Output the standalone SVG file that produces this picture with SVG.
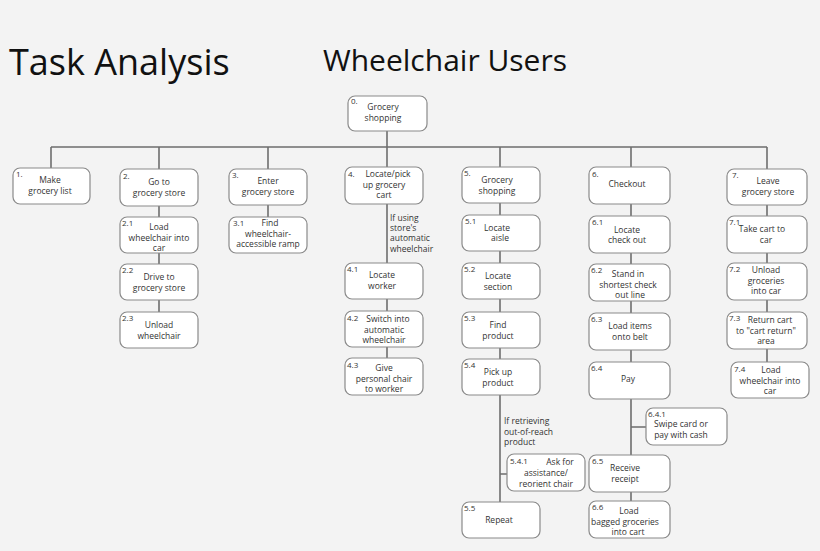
<svg xmlns="http://www.w3.org/2000/svg" width="820" height="551" viewBox="0 0 820 551">
<style>
.b{fill:#fff;stroke:#8a8a8a;stroke-width:1.2}
text{font-family:"Open Sans","Liberation Sans",sans-serif;fill:#333;font-size:8.5px}
.c{text-anchor:middle}
.n{font-size:8px}
.l{stroke:#6e6e6e;stroke-width:1.6;fill:none}
.t{font-size:36px;fill:#111}
</style>
<rect width="820" height="551" fill="#f3f3f3"/>
<text class="t" x="9" y="75">Task Analysis</text>
<text class="t" x="323" y="71" style="font-size:30px">Wheelchair Users</text>
<g id="connectors">
<path class="l" d="M387 131V147M51 147H767M51 147V168M159 147V169M268 147V169M387 147V167M500 147V167M631 147V167M767 147V169"/>
<path class="l" d="M159 206V312M268 205V217M387 204V358M500 203V502M500 474H507M631 204V501M631 427H646M767 205V362"/>
</g>
<g id="n0"><rect class="b" x="348" y="96" width="79" height="35" rx="7"/><text class="n" x="351" y="104">0.</text><text class="c" x="383" y="110">Grocery</text><text class="c" x="383" y="121">shopping</text></g>
<g id="n1"><rect class="b" x="13" y="168" width="77" height="36" rx="7"/><text class="n" x="16" y="177">1.</text><text class="c" x="50" y="183">Make</text><text class="c" x="50" y="194">grocery list</text></g>
<g id="n2"><rect class="b" x="120" y="169" width="78" height="37" rx="7"/><text class="n" x="123" y="179">2.</text><text class="c" x="159" y="185">Go to</text><text class="c" x="159" y="196">grocery store</text></g>
<g id="n21"><rect class="b" x="120" y="217" width="78" height="36" rx="7"/><text class="n" x="122" y="226">2.1</text><text class="c" x="159" y="230">Load</text><text class="c" x="159" y="241">wheelchair into</text><text class="c" x="159" y="251">car</text></g>
<g id="n22"><rect class="b" x="120" y="264" width="78" height="36" rx="7"/><text class="n" x="122" y="273">2.2</text><text class="c" x="159" y="280">Drive to</text><text class="c" x="159" y="291">grocery store</text></g>
<g id="n23"><rect class="b" x="120" y="312" width="78" height="36" rx="7"/><text class="n" x="122" y="321">2.3</text><text class="c" x="159" y="328">Unload</text><text class="c" x="159" y="339">wheelchair</text></g>
<g id="n3"><rect class="b" x="229" y="169" width="78" height="36" rx="7"/><text class="n" x="232" y="178">3.</text><text class="c" x="268" y="184">Enter</text><text class="c" x="268" y="195">grocery store</text></g>
<g id="n31"><rect class="b" x="229" y="217" width="78" height="36" rx="7"/><text class="n" x="233" y="226">3.1</text><text class="c" x="270" y="226">Find</text><text class="c" x="268" y="237">wheelchair-</text><text class="c" x="268" y="247">accessible ramp</text></g>
<g id="n4"><rect class="b" x="345" y="167" width="78" height="37" rx="7"/><text class="n" x="348" y="177">4.</text><text class="c" x="388" y="177">Locate/pick</text><text class="c" x="384" y="188">up grocery</text><text class="c" x="384" y="198">cart</text></g>
<text x="390" y="221">If using</text><text x="390" y="231">store's</text><text x="390" y="241">automatic</text><text x="390" y="252">wheelchair</text>
<g id="n41"><rect class="b" x="345" y="263" width="78" height="36" rx="7"/><text class="n" x="347" y="272">4.1</text><text class="c" x="382" y="278">Locate</text><text class="c" x="382" y="289">worker</text></g>
<g id="n42"><rect class="b" x="345" y="311" width="78" height="36" rx="7"/><text class="n" x="347" y="321">4.2</text><text class="c" x="388" y="322">Switch into</text><text class="c" x="384" y="333">automatic</text><text class="c" x="384" y="343">wheelchair</text></g>
<g id="n43"><rect class="b" x="345" y="358" width="78" height="37" rx="7"/><text class="n" x="347" y="368">4.3</text><text class="c" x="384" y="371">Give</text><text class="c" x="384" y="382">personal chair</text><text class="c" x="384" y="392">to worker</text></g>
<g id="n5"><rect class="b" x="462" y="167" width="78" height="36" rx="7"/><text class="n" x="464" y="176">5.</text><text class="c" x="497" y="183">Grocery</text><text class="c" x="497" y="194">shopping</text></g>
<g id="n51"><rect class="b" x="462" y="215" width="78" height="36" rx="7"/><text class="n" x="465" y="224">5.1</text><text class="c" x="497" y="231">Locate</text><text class="c" x="500" y="241">aisle</text></g>
<g id="n52"><rect class="b" x="462" y="263" width="78" height="36" rx="7"/><text class="n" x="464" y="272">5.2</text><text class="c" x="498" y="279">Locate</text><text class="c" x="498" y="290">section</text></g>
<g id="n53"><rect class="b" x="462" y="312" width="78" height="36" rx="7"/><text class="n" x="464" y="321">5.3</text><text class="c" x="498" y="328">Find</text><text class="c" x="498" y="339">product</text></g>
<g id="n54"><rect class="b" x="462" y="359" width="78" height="36" rx="7"/><text class="n" x="464" y="368">5.4</text><text class="c" x="498" y="375">Pick up</text><text class="c" x="498" y="386">product</text></g>
<text x="504" y="424">If retrieving</text><text x="504" y="435">out-of-reach</text><text x="504" y="445">product</text>
<g id="n541"><rect class="b" x="507" y="454" width="78" height="37" rx="7"/><text class="n" x="510" y="464">5.4.1</text><text class="c" x="560" y="465">Ask for</text><text class="c" x="546" y="476">assistance/</text><text class="c" x="546" y="487">reorient chair</text></g>
<g id="n55"><rect class="b" x="462" y="502" width="78" height="36" rx="7"/><text class="n" x="464" y="511">5.5</text><text class="c" x="499" y="523">Repeat</text></g>
<g id="n6"><rect class="b" x="589" y="167" width="81" height="37" rx="7"/><text class="n" x="592" y="177">6.</text><text class="c" x="627" y="187">Checkout</text></g>
<g id="n61"><rect class="b" x="589" y="216" width="81" height="37" rx="7"/><text class="n" x="592" y="225">6.1</text><text class="c" x="627" y="233">Locate</text><text class="c" x="627" y="243">check out</text></g>
<g id="n62"><rect class="b" x="589" y="264" width="81" height="37" rx="7"/><text class="n" x="591" y="273">6.2</text><text class="c" x="628" y="277">Stand in</text><text class="c" x="628" y="288">shortest check</text><text class="c" x="630" y="298">out line</text></g>
<g id="n63"><rect class="b" x="589" y="313" width="81" height="37" rx="7"/><text class="n" x="591" y="322">6.3</text><text class="c" x="630" y="329">Load items</text><text class="c" x="630" y="340">onto belt</text></g>
<g id="n64"><rect class="b" x="589" y="362" width="81" height="37" rx="7"/><text class="n" x="591" y="371">6.4</text><text class="c" x="628" y="382">Pay</text></g>
<g id="n641"><rect class="b" x="646" y="408" width="81" height="37" rx="7"/><text class="n" x="648" y="417">6.4.1</text><text class="c" x="681" y="427">Swipe card or</text><text class="c" x="681" y="438">pay with cash</text></g>
<g id="n65"><rect class="b" x="589" y="455" width="81" height="37" rx="7"/><text class="n" x="592" y="464">6.5</text><text class="c" x="625" y="471">Receive</text><text class="c" x="625" y="482">receipt</text></g>
<g id="n66"><rect class="b" x="589" y="501" width="81" height="37" rx="7"/><text class="n" x="592" y="510">6.6</text><text class="c" x="629" y="514">Load</text><text class="c" x="625" y="525">bagged groceries</text><text class="c" x="628" y="535">into cart</text></g>
<g id="n7"><rect class="b" x="727" y="169" width="80" height="36" rx="7"/><text class="n" x="732" y="178">7.</text><text class="c" x="768" y="184">Leave</text><text class="c" x="768" y="195">grocery store</text></g>
<g id="n71"><rect class="b" x="727" y="216" width="80" height="37" rx="7"/><text class="n" x="729" y="225">7.1</text><text class="c" x="762" y="232">Take cart to</text><text class="c" x="766" y="243">car</text></g>
<g id="n72"><rect class="b" x="727" y="263" width="80" height="37" rx="7"/><text class="n" x="729" y="272">7.2</text><text class="c" x="766" y="273">Unload</text><text class="c" x="766" y="284">groceries</text><text class="c" x="766" y="294">into car</text></g>
<g id="n73"><rect class="b" x="727" y="312" width="80" height="37" rx="7"/><text class="n" x="729" y="321">7.3</text><text class="c" x="770" y="323">Return cart</text><text class="c" x="766" y="334">to "cart return"</text><text class="c" x="766" y="344">area</text></g>
<g id="n74"><rect class="b" x="731" y="362" width="78" height="36" rx="7"/><text class="n" x="734" y="372">7.4</text><text class="c" x="771" y="373">Load</text><text class="c" x="770" y="384">wheelchair into</text><text class="c" x="770" y="394">car</text></g>
</svg>
